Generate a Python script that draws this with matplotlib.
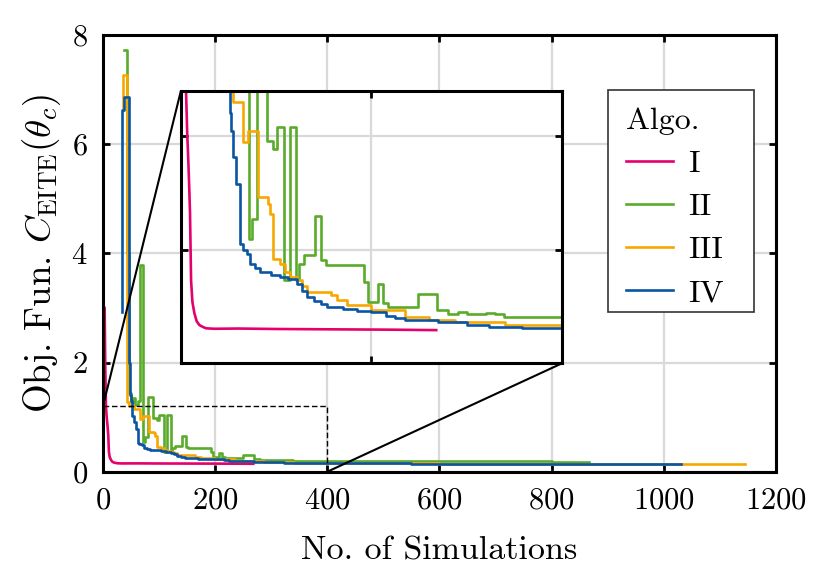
import numpy as np
import matplotlib
matplotlib.use("Agg")
import matplotlib.pyplot as plt
from matplotlib.patches import Rectangle
from mpl_toolkits.axes_grid1.inset_locator import mark_inset

plt.rcParams['font.family'] = 'serif'
plt.rcParams['font.serif'] = ['cmr10']
plt.rcParams['mathtext.fontset'] = 'cm'
plt.rcParams['axes.formatter.use_mathtext'] = True
plt.rcParams['font.size'] = 22

algos = ["I", "II", "III", "IV"]
colors = {"I": "#e5006d", "II": "#5aab2b", "III": "#f7a800", "IV": "#0a55a3"}

# Algo I: smooth decay
x_I = [3, 4, 5.3, 6.5, 7.8, 8.7, 9.5, 10.6, 12, 14.1, 16.5, 19.4, 23, 26.5, 35, 60, 100, 140, 180, 220, 268]
y_I = [3.0, 2.0, 1.2, 1.02, 0.88, 0.77, 0.66, 0.365, 0.27, 0.22, 0.185, 0.168, 0.16, 0.154,
       0.152, 0.153, 0.151, 0.150, 0.149, 0.148, 0.146]

# Algo II: step changes
x_II = [37, 42, 47, 50, 54, 58, 62, 66, 71.3, 74.1, 80.1, 90.0, 97.1, 100.6, 108.4, 114.0, 120.7,
        123.6, 128.9, 140.2, 147.2, 151.8, 192.4, 195.9, 206.6, 211.8, 217.1, 248.9, 269.0,
        280.7, 291.3, 300, 320, 330, 339.0, 450, 500, 600, 700, 800, 866]
y_II = [7.72, 4.0, 1.45, 1.28, 1.35, 1.22, 1.3, 3.78, 0.548, 0.636, 1.36, 0.979, 0.943, 1.038,
        0.365, 1.038, 0.365, 0.438, 0.475, 0.650, 0.453, 0.431, 0.358, 0.270, 0.350, 0.266,
        0.248, 0.307, 0.234, 0.219, 0.224, 0.219, 0.222, 0.219, 0.204, 0.205, 0.20, 0.195,
        0.19, 0.185, 0.183]

# Algo III
x_III = [35, 36.5, 43.5, 47, 54.7, 65.3, 70.6, 81.2, 91.8, 93.5, 97.1, 104.1, 109.4, 114.7,
         121.8, 127, 132.4, 157.1, 164.2, 174.8, 199.5, 234.8, 260, 287.8, 340.7, 400.8, 450,
         500, 600, 800, 1000, 1145]
y_III = [6.62, 7.27, 1.28, 1.2, 1.148, 0.972, 1.023, 0.731, 0.702, 0.658, 0.460, 0.438, 0.402,
         0.38, 0.365, 0.34, 0.314, 0.299, 0.277, 0.255, 0.234, 0.204, 0.19, 0.183, 0.168, 0.165,
         0.158, 0.153, 0.150, 0.147, 0.145, 0.145]

# Algo IV
x_IV = [34, 34.5, 38, 46.5, 48, 50, 51.2, 52.2, 54.7, 58.2, 61.8, 65, 68.8, 72.3, 78, 83.0, 95,
        104.1, 112, 121.8, 127, 132.4, 140, 147, 153.6, 170, 185, 199.5, 215, 225, 234.8, 270.2,
        300, 323.1, 358.4, 450, 550, 700, 850, 1000, 1030]
y_IV = [2.92, 6.62, 6.87, 2.0, 1.4, 1.3, 1.1, 1.023, 0.906, 0.789, 0.526, 0.50, 0.483, 0.438,
        0.42, 0.402, 0.39, 0.380, 0.37, 0.351, 0.32, 0.292, 0.275, 0.26, 0.248, 0.24, 0.232,
        0.226, 0.21, 0.2, 0.190, 0.183, 0.17, 0.160, 0.154, 0.152, 0.150, 0.149, 0.147, 0.145,
        0.145]

series = {"I": (x_I, y_I), "II": (x_II, y_II), "III": (x_III, y_III), "IV": (x_IV, y_IV)}

zoom_x = (0, 400)
zoom_y = (0, 1.2)


def draw(ax):
    for name in algos:
        xs, ys = series[name]
        ds = 'default' if name == "I" else 'steps-post'
        ax.plot(xs, ys, color=colors[name], lw=1.9, drawstyle=ds, label=name)


def style(ax):
    ax.grid(True, color='#d9d9d9', lw=1.6)
    ax.set_axisbelow(True)
    ax.tick_params(direction='in', length=5, width=2, top=True, right=True, pad=11)
    for sp in ax.spines.values():
        sp.set_linewidth(2.2)


fig = plt.figure(figsize=(8.29, 5.86), dpi=100)
ax = fig.add_axes([0.1242, 0.195, 0.8118, 0.7453])
draw(ax)
style(ax)
ax.set_xlim(0, 1200)
ax.set_ylim(0, 8)
ax.set_xticks(np.arange(0, 1201, 200))
ax.set_yticks(np.arange(0, 9, 2))
ax.set_xlabel("No. of Simulations", fontsize=24.5, labelpad=16)
ax.set_ylabel(r"Obj. Fun. $C_{\mathrm{EITE}}(\theta_c)$", fontsize=26.5, labelpad=6)

# legend frame drawn as its own box (wider right margin than matplotlib's padding gives)
box_x, box_y, box_w, box_h = 0.7504, 0.3657, 0.2169, 0.5084
ax.add_patch(Rectangle((box_x, box_y), box_w, box_h, transform=ax.transAxes,
                       fc='white', ec='#333333', lw=1.2, zorder=9))
leg = ax.legend(title="Algo.", loc='upper left', bbox_to_anchor=(box_x, box_y + box_h),
                borderaxespad=0, frameon=False, fontsize=23, title_fontsize=23,
                handlelength=1.5, handletextpad=0.45, labelspacing=0.46, borderpad=0.55,
                alignment='left')
leg.set_zorder(10)

axin = fig.add_axes([0.2183, 0.38, 0.4596, 0.4655])
draw(axin)
style(axin)
axin.set_xlim(*zoom_x)
axin.set_ylim(*zoom_y)
axin.set_xticks([0, 200, 400])
axin.set_yticks([0, 0.5, 1.0])
axin.set_xticklabels([])
axin.set_yticklabels([])

rect, c1, c2 = mark_inset(ax, axin, loc1=2, loc2=4, fc='none', ec='k', lw=1.5)
rect.set_linestyle((0, (4, 2)))
rect.set_linewidth(1.0)
for p in (rect, c1, c2):
    p.set_zorder(5)

fig.savefig("out.png", dpi=100)
